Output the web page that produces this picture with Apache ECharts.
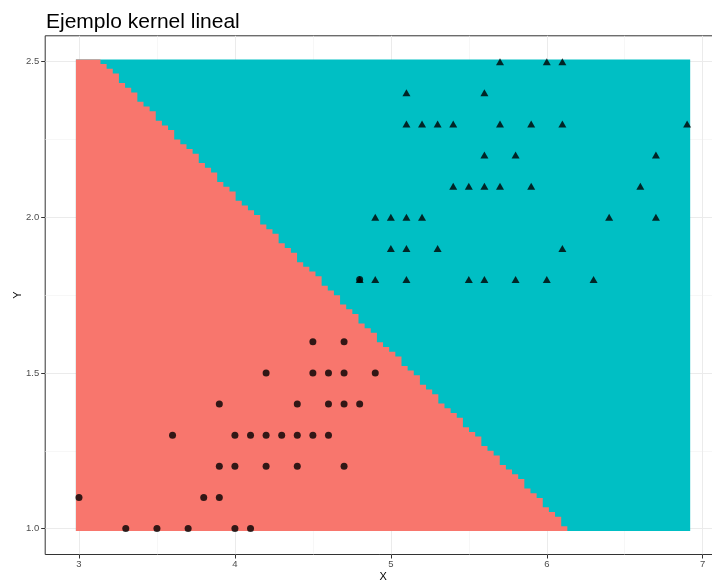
<!DOCTYPE html>
<html>
<head>
<meta charset="utf-8">
<script src="https://cdn.jsdelivr.net/npm/echarts@6/dist/echarts.min.js"></script>
<style>
html,body{margin:0;padding:0;background:#fff;}
#chart{width:712px;height:581px;}
</style>
</head>
<body>
<div id="chart"></div>
<script>
// ---- data ----
const titleText = 'Ejemplo kernel lineal';
const xTicks = [3, 4, 5, 6, 7];
const xMinorTicks = [3.5, 4.5, 5.5, 6.5];
const yTicks = [1.0, 1.5, 2.0, 2.5];
const yMinorTicks = [1.25, 1.75, 2.25];

// prediction grid: 100 x 100 points from x 3..6.9, y 1.0..2.5
const gridXMin = 3.0, gridXMax = 6.9, gridYMin = 1.0, gridYMax = 2.5, gridN = 100;
// number of red (class 1) cells in each grid row, bottom row (y = 1.0) first
const redCells = [
  80,79,79,78,77,76,76,75,74,73,
  73,72,71,70,69,69,68,67,66,66,
  65,64,63,63,62,61,60,59,59,58,
  57,56,56,55,54,53,53,52,51,50,
  49,49,48,47,46,46,45,44,43,43,
  42,41,40,40,39,38,37,36,36,35,
  34,33,33,32,31,30,30,29,28,27,
  26,26,25,24,23,23,22,21,20,20,
  19,18,17,16,16,15,14,13,13,12,
  11,10,10,9,8,7,7,6,5,4
];

// class 1 points (circles)
const circleX = [4.5,4.7, 4.2,4.5,4.6,4.7,4.9, 3.9,4.4,4.6,4.7,4.8,
  3.6,4.0,4.1,4.2,4.3,4.4,4.5,4.6, 3.9,4.0,4.2,4.4,4.7, 3.0,3.8,3.9,
  3.3,3.5,3.7,4.0,4.1, 4.8];
const circleY = [1.6,1.6, 1.5,1.5,1.5,1.5,1.5, 1.4,1.4,1.4,1.4,1.4,
  1.3,1.3,1.3,1.3,1.3,1.3,1.3,1.3, 1.2,1.2,1.2,1.2,1.2, 1.1,1.1,1.1,
  1.0,1.0,1.0,1.0,1.0, 1.8];

// class 2 points (triangles)
const triX = [5.7,6.0,6.1, 5.1,5.6, 5.1,5.2,5.3,5.4,5.7,5.9,6.1,6.9,
  5.6,5.8,6.7, 5.4,5.5,5.6,5.7,5.9,6.6, 4.9,5.0,5.1,5.2,6.4,6.7,
  5.0,5.1,5.3,6.1, 4.8,4.9,5.1,5.5,5.6,5.8,6.0,6.3];
const triY = [2.5,2.5,2.5, 2.4,2.4, 2.3,2.3,2.3,2.3,2.3,2.3,2.3,2.3,
  2.2,2.2,2.2, 2.1,2.1,2.1,2.1,2.1,2.1, 2.0,2.0,2.0,2.0,2.0,2.0,
  1.9,1.9,1.9,1.9, 1.8,1.8,1.8,1.8,1.8,1.8,1.8,1.8];

// ---- chart ----
const dx = (gridXMax - gridXMin) / (gridN - 1);
const dy = (gridYMax - gridYMin) / (gridN - 1);
const tileXMin = gridXMin - dx / 2, tileXMax = gridXMax + dx / 2;
const tileYMin = gridYMin - dy / 2, tileYMax = gridYMax + dy / 2;
const xExp = (tileXMax - tileXMin) * 0.05;
const yExp = (tileYMax - tileYMin) * 0.05;
const xMin = tileXMin - xExp, xMax = tileXMax + xExp;
const yMin = tileYMin - yExp, yMax = tileYMax + yExp;

const FONT = '"Liberation Sans", Arial, sans-serif';
const RED = '#F8766D', TEAL = '#00BFC4';

const chart = echarts.init(document.getElementById('chart'), null, {renderer: 'canvas'});

const option = {
  animation: false,
  backgroundColor: '#ffffff',
  title: {
    text: titleText,
    left: 41,
    top: 7,
    textStyle: {fontFamily: FONT, fontSize: 21, fontWeight: 'normal', color: '#000'}
  },
  grid: {
    left: 45.2, top: 35.8, width: 675.7, height: 518.7,
    show: true, borderColor: '#333333', borderWidth: 1, backgroundColor: 'transparent',
    containLabel: false,
    outerBoundsMode: 'none'
  },
  xAxis: [
    {
      type: 'value', min: xMin, max: xMax,
      axisLine: {show: false},
      axisTick: {show: true, length: 4, lineStyle: {color: '#333333'}, customValues: xTicks},
      axisLabel: {customValues: xTicks, color: '#4D4D4D', fontFamily: FONT, fontSize: 9.5, margin: 5,
        formatter: v => String(Math.round(v))},
      splitLine: {show: true, lineStyle: {color: '#EBEBEB', width: 1}},
      name: 'X', nameLocation: 'middle', nameGap: 17, nameMoveOverlap: false,
      nameTextStyle: {fontFamily: FONT, fontSize: 11, color: '#000'}
    },
    {
      type: 'value', min: xMin, max: xMax, position: 'bottom',
      axisLine: {show: false},
      axisTick: {show: false, customValues: xMinorTicks},
      axisLabel: {show: false, customValues: xMinorTicks},
      splitLine: {show: true, lineStyle: {color: '#F1F1F1', width: 0.6}}
    }
  ],
  yAxis: [
    {
      type: 'value', min: yMin, max: yMax,
      axisLine: {show: false},
      axisTick: {show: true, length: 4, lineStyle: {color: '#333333'}, customValues: yTicks},
      axisLabel: {customValues: yTicks, color: '#4D4D4D', fontFamily: FONT, fontSize: 9.5, margin: 6,
        formatter: v => v.toFixed(1)},
      splitLine: {show: true, lineStyle: {color: '#EBEBEB', width: 1}},
      name: 'Y', nameLocation: 'middle', nameGap: 22, nameMoveOverlap: false,
      nameTextStyle: {fontFamily: FONT, fontSize: 11, color: '#000'}
    },
    {
      type: 'value', min: yMin, max: yMax, position: 'left',
      axisLine: {show: false},
      axisTick: {show: false, customValues: yMinorTicks},
      axisLabel: {show: false, customValues: yMinorTicks},
      splitLine: {show: true, lineStyle: {color: '#F1F1F1', width: 0.6}}
    }
  ],
  series: [
    {
      // decision regions: teal background + red staircase polygon built from redCells
      type: 'custom',
      xAxisIndex: 0, yAxisIndex: 0,
      clip: false,
      silent: true,
      data: [[gridXMin, gridYMin]],
      renderItem: function (params, api) {
        const tl = api.coord([tileXMin, tileYMax]);
        const br = api.coord([tileXMax, tileYMin]);
        const pts = [api.coord([tileXMin, tileYMin])];
        for (let i = 0; i < redCells.length; i++) {
          const xb = gridXMin + (redCells[i] - 0.5) * dx;
          const yLo = gridYMin + i * dy - dy / 2;
          const yHi = gridYMin + i * dy + dy / 2;
          pts.push(api.coord([xb, yLo]));
          pts.push(api.coord([xb, yHi]));
        }
        pts.push(api.coord([tileXMin, tileYMax]));
        return {
          type: 'group',
          children: [
            {type: 'rect', shape: {x: tl[0], y: tl[1], width: br[0] - tl[0], height: br[1] - tl[1]},
              style: {fill: TEAL}},
            {type: 'polygon', shape: {points: pts}, style: {fill: RED}}
          ]
        };
      }
    },
    {
      type: 'scatter',
      xAxisIndex: 0, yAxisIndex: 0,
      symbol: 'circle', symbolSize: 7,
      itemStyle: {color: '#000'},
      data: circleX.map((x, k) => [x, circleY[k]])
    },
    {
      type: 'scatter',
      xAxisIndex: 0, yAxisIndex: 0,
      symbol: 'triangle', symbolSize: [8, 7],
      itemStyle: {color: '#000'},
      data: triX.map((x, k) => [x, triY[k]])
    }
  ]
};
chart.setOption(option);
</script>
</body>
</html>
